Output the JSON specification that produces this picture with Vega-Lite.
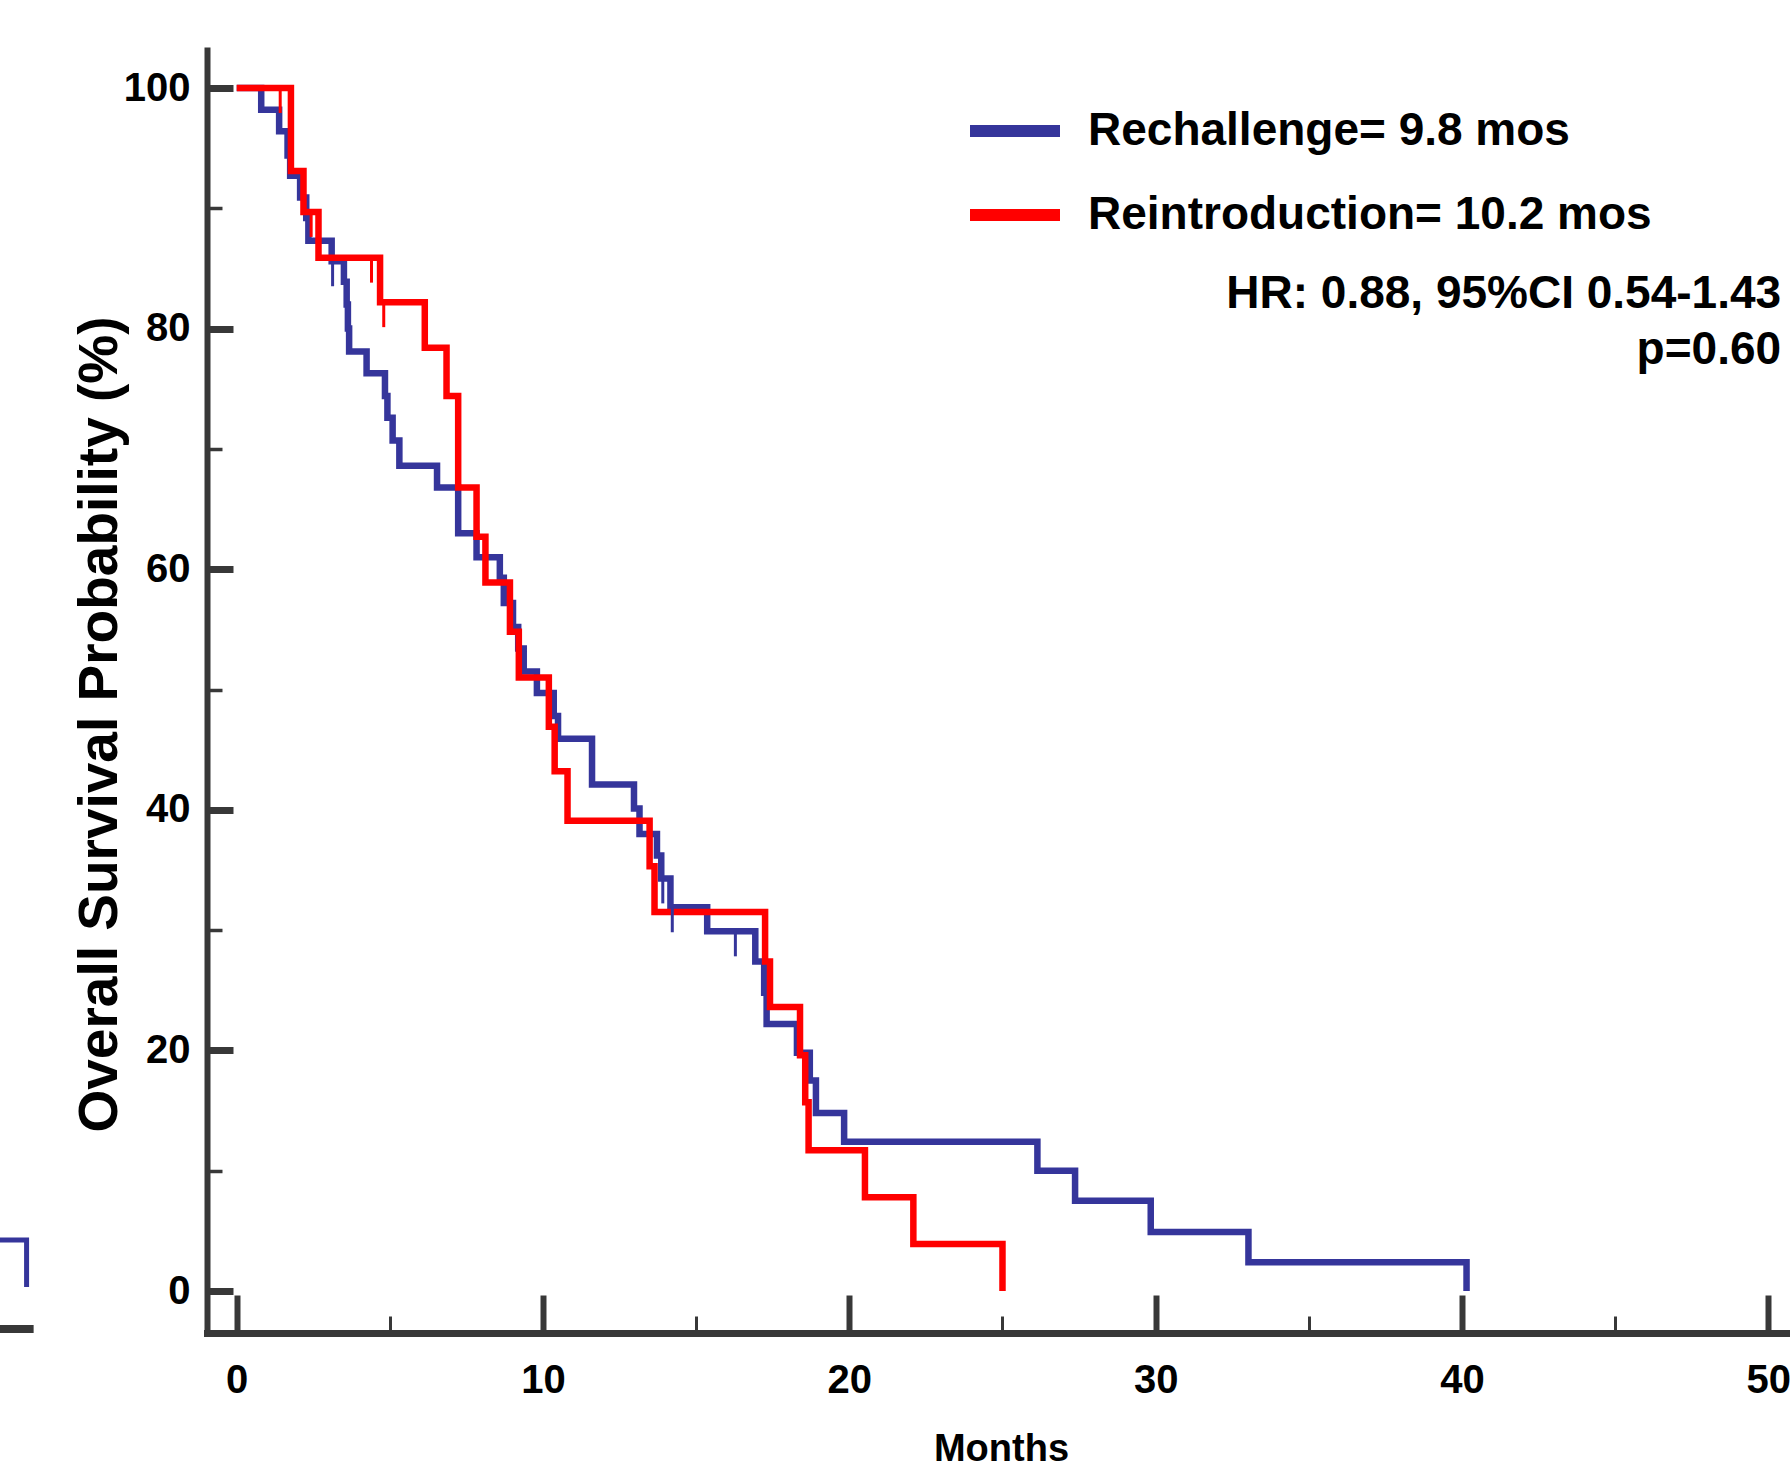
{
  "$schema": "https://vega.github.io/schema/vega-lite/v6.json",
  "width": 1583,
  "height": 1283,
  "autosize": {"type": "none"},
  "padding": {"left": 207, "top": 50, "right": 0, "bottom": 137},
  "background": "white",
  "config": {"view": {"stroke": null}, "axis": {"grid": false}},
  "datasets": {
    "curves": [
      {"arm": "Rechallenge= 9.8 mos", "t": 0, "s": 100},
      {"arm": "Rechallenge= 9.8 mos", "t": 0.80, "s": 98.2},
      {"arm": "Rechallenge= 9.8 mos", "t": 1.385, "s": 96.4},
      {"arm": "Rechallenge= 9.8 mos", "t": 1.66, "s": 94.4},
      {"arm": "Rechallenge= 9.8 mos", "t": 1.745, "s": 92.7},
      {"arm": "Rechallenge= 9.8 mos", "t": 2.07, "s": 90.9},
      {"arm": "Rechallenge= 9.8 mos", "t": 2.27, "s": 89.2},
      {"arm": "Rechallenge= 9.8 mos", "t": 2.34, "s": 87.3},
      {"arm": "Rechallenge= 9.8 mos", "t": 3.10, "s": 85.6},
      {"arm": "Rechallenge= 9.8 mos", "t": 3.50, "s": 83.9},
      {"arm": "Rechallenge= 9.8 mos", "t": 3.59, "s": 82.0},
      {"arm": "Rechallenge= 9.8 mos", "t": 3.63, "s": 80.0},
      {"arm": "Rechallenge= 9.8 mos", "t": 3.67, "s": 78.1},
      {"arm": "Rechallenge= 9.8 mos", "t": 4.24, "s": 76.3},
      {"arm": "Rechallenge= 9.8 mos", "t": 4.84, "s": 74.4},
      {"arm": "Rechallenge= 9.8 mos", "t": 4.92, "s": 72.6},
      {"arm": "Rechallenge= 9.8 mos", "t": 5.09, "s": 70.7},
      {"arm": "Rechallenge= 9.8 mos", "t": 5.31, "s": 68.6},
      {"arm": "Rechallenge= 9.8 mos", "t": 6.54, "s": 66.8},
      {"arm": "Rechallenge= 9.8 mos", "t": 7.23, "s": 63.0},
      {"arm": "Rechallenge= 9.8 mos", "t": 7.83, "s": 61.0},
      {"arm": "Rechallenge= 9.8 mos", "t": 8.59, "s": 59.3},
      {"arm": "Rechallenge= 9.8 mos", "t": 8.72, "s": 57.2},
      {"arm": "Rechallenge= 9.8 mos", "t": 9.02, "s": 55.2},
      {"arm": "Rechallenge= 9.8 mos", "t": 9.19, "s": 53.4},
      {"arm": "Rechallenge= 9.8 mos", "t": 9.37, "s": 51.5},
      {"arm": "Rechallenge= 9.8 mos", "t": 9.80, "s": 49.7},
      {"arm": "Rechallenge= 9.8 mos", "t": 10.35, "s": 47.8},
      {"arm": "Rechallenge= 9.8 mos", "t": 10.49, "s": 45.9},
      {"arm": "Rechallenge= 9.8 mos", "t": 11.60, "s": 42.1},
      {"arm": "Rechallenge= 9.8 mos", "t": 12.97, "s": 40.1},
      {"arm": "Rechallenge= 9.8 mos", "t": 13.15, "s": 38.0},
      {"arm": "Rechallenge= 9.8 mos", "t": 13.72, "s": 36.2},
      {"arm": "Rechallenge= 9.8 mos", "t": 13.86, "s": 34.3},
      {"arm": "Rechallenge= 9.8 mos", "t": 14.16, "s": 31.9},
      {"arm": "Rechallenge= 9.8 mos", "t": 15.36, "s": 29.9},
      {"arm": "Rechallenge= 9.8 mos", "t": 16.93, "s": 27.4},
      {"arm": "Rechallenge= 9.8 mos", "t": 17.22, "s": 24.8},
      {"arm": "Rechallenge= 9.8 mos", "t": 17.30, "s": 22.2},
      {"arm": "Rechallenge= 9.8 mos", "t": 18.29, "s": 19.8},
      {"arm": "Rechallenge= 9.8 mos", "t": 18.71, "s": 17.5},
      {"arm": "Rechallenge= 9.8 mos", "t": 18.91, "s": 14.8},
      {"arm": "Rechallenge= 9.8 mos", "t": 19.83, "s": 12.4},
      {"arm": "Rechallenge= 9.8 mos", "t": 26.14, "s": 10.0},
      {"arm": "Rechallenge= 9.8 mos", "t": 27.37, "s": 7.5},
      {"arm": "Rechallenge= 9.8 mos", "t": 29.84, "s": 4.9},
      {"arm": "Rechallenge= 9.8 mos", "t": 33.03, "s": 2.4},
      {"arm": "Rechallenge= 9.8 mos", "t": 40.15, "s": 0},
      {"arm": "Reintroduction= 10.2 mos", "t": 0, "s": 100},
      {"arm": "Reintroduction= 10.2 mos", "t": 1.77, "s": 93.1},
      {"arm": "Reintroduction= 10.2 mos", "t": 2.18, "s": 89.7},
      {"arm": "Reintroduction= 10.2 mos", "t": 2.67, "s": 85.9},
      {"arm": "Reintroduction= 10.2 mos", "t": 4.68, "s": 82.2},
      {"arm": "Reintroduction= 10.2 mos", "t": 6.14, "s": 78.4},
      {"arm": "Reintroduction= 10.2 mos", "t": 6.85, "s": 74.4},
      {"arm": "Reintroduction= 10.2 mos", "t": 7.23, "s": 66.8},
      {"arm": "Reintroduction= 10.2 mos", "t": 7.83, "s": 62.7},
      {"arm": "Reintroduction= 10.2 mos", "t": 8.12, "s": 58.9},
      {"arm": "Reintroduction= 10.2 mos", "t": 8.92, "s": 54.8},
      {"arm": "Reintroduction= 10.2 mos", "t": 9.21, "s": 51.0},
      {"arm": "Reintroduction= 10.2 mos", "t": 10.19, "s": 46.9},
      {"arm": "Reintroduction= 10.2 mos", "t": 10.38, "s": 43.2},
      {"arm": "Reintroduction= 10.2 mos", "t": 10.80, "s": 39.1},
      {"arm": "Reintroduction= 10.2 mos", "t": 13.48, "s": 35.3},
      {"arm": "Reintroduction= 10.2 mos", "t": 13.64, "s": 31.5},
      {"arm": "Reintroduction= 10.2 mos", "t": 17.25, "s": 27.4},
      {"arm": "Reintroduction= 10.2 mos", "t": 17.41, "s": 23.6},
      {"arm": "Reintroduction= 10.2 mos", "t": 18.39, "s": 19.6},
      {"arm": "Reintroduction= 10.2 mos", "t": 18.56, "s": 15.7},
      {"arm": "Reintroduction= 10.2 mos", "t": 18.67, "s": 11.7},
      {"arm": "Reintroduction= 10.2 mos", "t": 20.51, "s": 7.8},
      {"arm": "Reintroduction= 10.2 mos", "t": 22.09, "s": 3.9},
      {"arm": "Reintroduction= 10.2 mos", "t": 25.0, "s": 0}
    ],
    "censors": [
      {"arm": "Rechallenge= 9.8 mos", "t": 3.13, "s": 85.6},
      {"arm": "Rechallenge= 9.8 mos", "t": 13.91, "s": 34.3},
      {"arm": "Rechallenge= 9.8 mos", "t": 14.22, "s": 31.9},
      {"arm": "Rechallenge= 9.8 mos", "t": 16.28, "s": 29.9},
      {"arm": "Reintroduction= 10.2 mos", "t": 1.42, "s": 100},
      {"arm": "Reintroduction= 10.2 mos", "t": 2.43, "s": 89.7},
      {"arm": "Reintroduction= 10.2 mos", "t": 4.40, "s": 85.9},
      {"arm": "Reintroduction= 10.2 mos", "t": 4.80, "s": 82.2}
    ],
    "notes": [
      {"label": "HR: 0.88, 95%CI 0.54-1.43", "t": 50.42, "s": 81.7},
      {"label": "p=0.60", "t": 50.42, "s": 77.1}
    ],
    "fragment": [
      {"t": -7.8, "s": 4.24},
      {"t": -6.86, "s": 0.33}
    ],
    "fragmentAxis": [
      {"t": -7.8, "t2": -6.63, "s": -3.16}
    ]
  },
  "layer": [
    {
      "data": {"name": "curves"},
      "mark": {"type": "line", "interpolate": "step-after", "strokeWidth": 6.5, "strokeJoin": "miter"},
      "encoding": {
        "x": {
          "field": "t", "type": "quantitative",
          "scale": {"domain": [-0.97, 50.71], "nice": false, "zero": false},
          "axis": {
            "orient": "bottom", "values": [0, 10, 20, 30, 40, 50],
            "ticks": false, "grid": false,
            "domain": true, "domainColor": "#383838", "domainWidth": 7, "domainCap": "square",
            "labels": true, "labelFont": "Liberation Sans, Arial, sans-serif",
            "labelFontWeight": "bold", "labelFontSize": 40, "labelColor": "#000000",
            "labelPadding": 27, "labelBaseline": "top", "labelFlush": false, "labelOverlap": false,
            "title": "Months",
            "titleFont": "Liberation Sans, Arial, sans-serif",
            "titleFontWeight": "bold", "titleFontSize": 38, "titleColor": "#000000",
            "titleX": 794, "titleY": 127, "titleAlign": "center", "titleBaseline": "alphabetic"
          }
        },
        "y": {
          "field": "s", "type": "quantitative",
          "scale": {"domain": [-3.49, 103.16], "nice": false, "zero": false},
          "axis": {
            "orient": "left", "values": [0, 20, 40, 60, 80, 100],
            "ticks": false, "grid": false,
            "domain": true, "domainColor": "#383838", "domainWidth": 6, "domainCap": "square",
            "labels": true, "labelFont": "Liberation Sans, Arial, sans-serif",
            "labelFontWeight": "bold", "labelFontSize": 40, "labelColor": "#000000",
            "labelPadding": 17, "labelBaseline": "middle", "labelFlush": false, "labelOverlap": false,
            "title": "Overall Survival Probability (%)",
            "titleFont": "Liberation Sans, Arial, sans-serif",
            "titleFontWeight": "bold", "titleFontSize": 55, "titleColor": "#000000",
            "titleAngle": -90, "titleX": -91, "titleY": 674, "titleAlign": "center", "titleBaseline": "alphabetic"
          }
        },
        "color": {
          "field": "arm", "type": "nominal",
          "scale": {"domain": ["Rechallenge= 9.8 mos", "Reintroduction= 10.2 mos"], "range": ["#35359b", "#ff0000"]},
          "legend": {
            "orient": "none", "legendX": 757, "legendY": 30, "title": null,
            "symbolType": "stroke", "symbolSize": 8100, "symbolStrokeWidth": 12,
            "labelFont": "Liberation Sans, Arial, sans-serif", "labelFontWeight": "bold",
            "labelFontSize": 46, "labelColor": "#000000", "labelOffset": 22, "labelLimit": 1000,
            "rowPadding": 9, "padding": 0
          }
        }
      }
    },
    {
      "data": {"name": "censors"},
      "mark": {"type": "rule", "strokeWidth": 3, "y2Offset": 25},
      "encoding": {
        "x": {
          "field": "t", "type": "quantitative",
          "scale": {"domain": [-0.97, 50.71], "nice": false, "zero": false},
          "axis": {
            "orient": "bottom", "values": [0, 10, 20, 30, 40, 50],
            "ticks": true, "tickSize": -38, "tickWidth": 6, "tickColor": "#383838",
            "domain": false, "labels": false, "grid": false, "title": null
          }
        },
        "y": {
          "field": "s", "type": "quantitative",
          "scale": {"domain": [-3.49, 103.16], "nice": false, "zero": false},
          "axis": {
            "orient": "left", "values": [0, 20, 40, 60, 80, 100],
            "ticks": true, "tickSize": -26, "tickWidth": 7, "tickColor": "#383838",
            "domain": false, "labels": false, "grid": false, "title": null
          }
        },
        "y2": {"field": "s"},
        "color": {"field": "arm", "type": "nominal", "legend": null}
      }
    },
    {
      "data": {"name": "fragment"},
      "mark": {"type": "line", "interpolate": "step-after", "strokeWidth": 5, "color": "#35359b"},
      "encoding": {
        "x": {
          "field": "t", "type": "quantitative",
          "scale": {"domain": [-0.97, 50.71], "nice": false, "zero": false},
          "axis": {
            "orient": "bottom", "values": [5, 15, 25, 35, 45],
            "ticks": true, "tickSize": -17, "tickWidth": 3, "tickColor": "#383838",
            "domain": false, "labels": false, "grid": false, "title": null
          }
        },
        "y": {
          "field": "s", "type": "quantitative",
          "scale": {"domain": [-3.49, 103.16], "nice": false, "zero": false},
          "axis": {
            "orient": "left", "values": [10, 30, 50, 70, 90],
            "ticks": true, "tickSize": -15, "tickWidth": 3.5, "tickColor": "#383838",
            "domain": false, "labels": false, "grid": false, "title": null
          }
        }
      }
    },
    {
      "data": {"name": "fragmentAxis"},
      "mark": {"type": "rule", "strokeWidth": 8, "color": "#383838"},
      "encoding": {
        "x": {"field": "t", "type": "quantitative", "scale": {"domain": [-0.97, 50.71], "nice": false, "zero": false}, "axis": null},
        "x2": {"field": "t2"},
        "y": {"field": "s", "type": "quantitative", "scale": {"domain": [-3.49, 103.16], "nice": false, "zero": false}, "axis": null}
      }
    },
    {
      "data": {"name": "notes"},
      "mark": {"type": "text", "align": "right", "baseline": "alphabetic", "font": "Liberation Sans, Arial, sans-serif", "fontWeight": "bold", "fontSize": 46, "color": "#000000"},
      "encoding": {
        "x": {"field": "t", "type": "quantitative", "scale": {"domain": [-0.97, 50.71], "nice": false, "zero": false}, "axis": null},
        "y": {"field": "s", "type": "quantitative", "scale": {"domain": [-3.49, 103.16], "nice": false, "zero": false}, "axis": null},
        "text": {"field": "label", "type": "nominal"}
      }
    }
  ],
  "resolve": {"axis": {"x": "independent", "y": "independent"}}
}
